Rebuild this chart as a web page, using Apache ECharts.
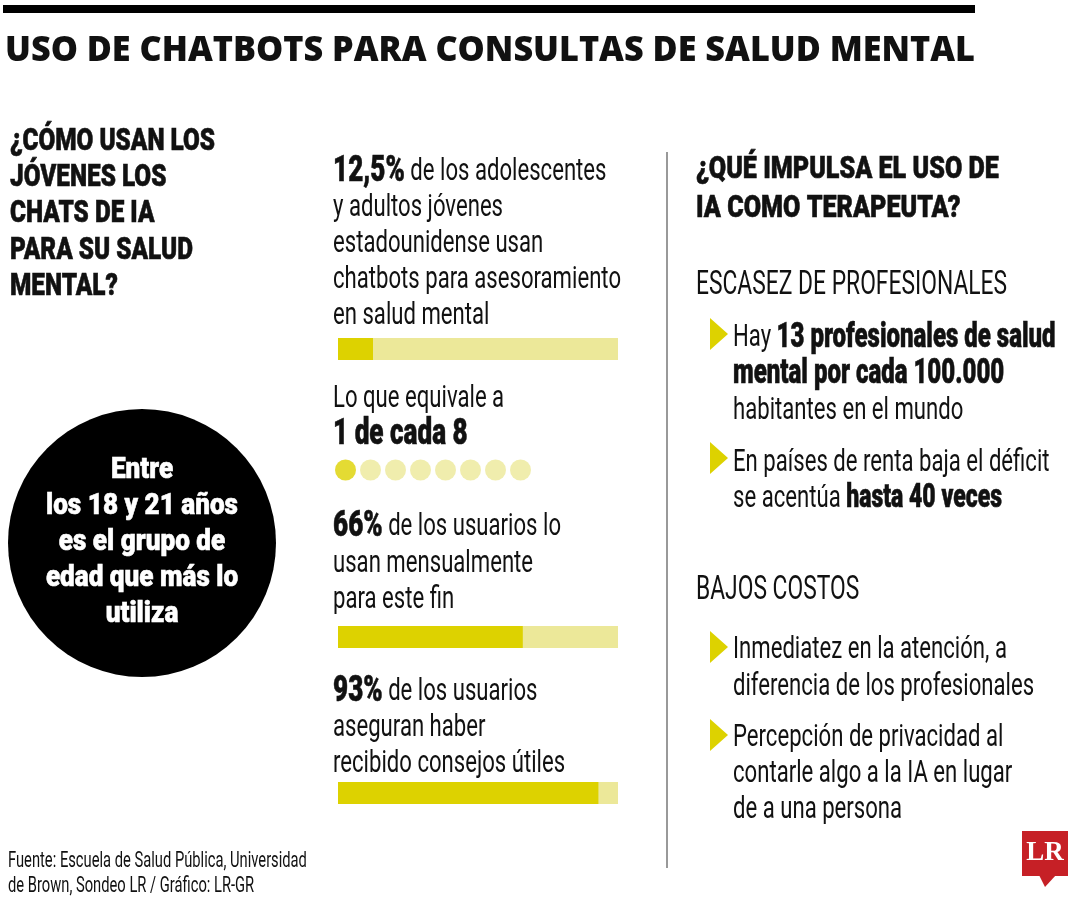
<!DOCTYPE html>
<html><head><meta charset="utf-8">
<script src="https://cdn.jsdelivr.net/npm/echarts@6/dist/echarts.min.js"></script>
<style>html,body{margin:0;padding:0;background:#fff}#c{width:1080px;height:900px}</style>
</head><body><div id="c"></div>
<script>
// ---- data ----
const title = 'USO DE CHATBOTS PARA CONSULTAS DE SALUD MENTAL';
const leftHeading = ['¿CÓMO USAN LOS', 'JÓVENES LOS', 'CHATS DE IA', 'PARA SU SALUD', 'MENTAL?'];
const circleText = ['Entre', 'los 18 y 21 años', 'es el grupo de', 'edad que más lo', 'utiliza'];
const barLabels = ['Adolescentes y adultos jóvenes que usan chatbots', 'Usuarios que los usan mensualmente', 'Usuarios que recibieron consejos útiles'];
const barValues = [12.5, 66, 93];
const dotLabels = ['1', '2', '3', '4', '5', '6', '7', '8'];
const dotFilled = 1;
const block1 = ['{b|12,5%} de los adolescentes', 'y adultos jóvenes', 'estadounidense usan', 'chatbots para asesoramiento', 'en salud mental'];
const block2 = ['Lo que equivale a', '{b|1 de cada 8}'];
const block3 = ['{b|66%} de los usuarios lo', 'usan mensualmente', 'para este fin'];
const block4 = ['{b|93%} de los usuarios', 'aseguran haber', 'recibido consejos útiles'];
const rightHeading = ['¿QUÉ IMPULSA EL USO DE', 'IA COMO TERAPEUTA?'];
const section1 = 'ESCASEZ DE PROFESIONALES';
const bullets1 = [
  ['Hay {b|13 profesionales de salud}', '{b|mental por cada 100.000}', 'habitantes en el mundo'],
  ['En países de renta baja el déficit', 'se acentúa {b|hasta 40 veces}']
];
const section2 = 'BAJOS COSTOS';
const bullets2 = [
  ['Inmediatez en la atención, a', 'diferencia de los profesionales'],
  ['Percepción de privacidad al', 'contarle algo a la IA en lugar', 'de a una persona']
];
const source = ['Fuente: Escuela de Salud Pública, Universidad', 'de Brown, Sondeo LR / Gráfico: LR-GR'];

// ---- style ----
const DARK = '#ddd200', LIGHT = '#ece899';
const COND = "Roboto, 'Noto Sans', sans-serif";
const WIDE = "'Open Sans', 'Noto Sans', sans-serif";
const HEAVY = 900;
const ctx = document.createElement('canvas').getContext('2d');
function measure(t, size, weight, fam) { ctx.font = weight + ' ' + size + 'px ' + fam; return ctx.measureText(t).width; }
const sxReg = 288 / measure('chatbots para asesoramiento', 32, 400, COND);
const sxBold = 205 / measure('¿CÓMO USAN LOS', 31, HEAVY, COND);
const sxCircle = 192 / measure('los 18 y 21 años', 29, HEAVY, COND);
const sxTitle = 970 / measure(title, 35, 800, WIDE);
const DY = 3;

function line(x, y, text, size, opts) {
  opts = opts || {};
  const weight = opts.weight || 400;
  const sx = opts.sx || (weight === 400 ? sxReg : sxBold);
  const bsize = opts.bsize || size * 1.06;
  const fill = opts.fill || '#111';
  const heavyStroke = { stroke: fill, lineWidth: 0.6 };
  const style = {
    text: text, fontFamily: opts.fam || COND, fontSize: size, fontWeight: weight,
    fill: fill, align: opts.align || 'left', verticalAlign: 'middle',
    rich: { b: Object.assign({ fontFamily: opts.fam || COND, fontSize: bsize, fontWeight: HEAVY, fill: fill }, heavyStroke) }
  };
  if (opts.heavy) Object.assign(style, heavyStroke);
  return { type: 'text', x: x, y: y + DY, scaleX: sx, silent: true, style: style };
}
function lines(x, y0, arr, size, lh, opts) { return arr.map((t, i) => line(x, y0 + i * lh, t, size, opts)); }
function tri(x, yc) {
  return { type: 'polygon', silent: true, shape: { points: [[x, yc - 16], [x + 18, yc], [x, yc + 16]] }, style: { fill: DARK } };
}

const mid = { bsize: 32 * 1.18 };
const rgt = { bsize: 32 * 1.085 };
const g = [];
g.push({ type: 'rect', shape: { x: 3, y: 5, width: 972, height: 8 }, style: { fill: '#000' } });
g.push(line(5, 48, title, 35, { weight: 800, fam: WIDE, sx: sxTitle }));
g.push(...lines(10, 139, leftHeading, 31, 36.3, { weight: HEAVY, heavy: true }));
g.push({ type: 'circle', shape: { cx: 142, cy: 543, r: 134 }, style: { fill: '#000' } });
g.push(...lines(142, 468, circleText, 29, 36, { weight: HEAVY, fill: '#fff', align: 'center', sx: sxCircle, heavy: true }));
g.push(...lines(333, 169, block1, 32, 36, mid));
g.push(...lines(333, 396, block2, 32, 36, mid));
g.push(...lines(333, 524, block3, 32, 36.5, mid));
g.push(...lines(333, 689, block4, 32, 36, mid));
g.push({ type: 'line', shape: { x1: 667, y1: 152, x2: 667, y2: 868 }, style: { stroke: '#777', lineWidth: 1.5 } });
g.push(...lines(696, 167, rightHeading, 32, 39, { weight: HEAVY, heavy: true }));
g.push(line(696, 283, section1, 33));
g.push(tri(710, 334)); g.push(...lines(733, 335, bullets1[0], 32, 36.5, rgt));
g.push(tri(710, 458)); g.push(...lines(733, 460, bullets1[1], 32, 35.5, { bsize: 32 * 1.04 }));
g.push(line(696, 588, section2, 33));
g.push(tri(710, 647)); g.push(...lines(733, 647, bullets2[0], 32, 36.5));
g.push(tri(710, 735)); g.push(...lines(733, 735, bullets2[1], 32, 36));
g.push(...lines(8, 859, source, 21.3, 25));
g.push({ type: 'rect', shape: { x: 1022, y: 831, width: 46, height: 45 }, style: { fill: '#c62026' } });
g.push({ type: 'polygon', shape: { points: [[1039, 875], [1056, 875], [1045, 887]] }, style: { fill: '#c62026' } });
g.push({ type: 'text', x: 1045, y: 853, style: { text: 'LR', fontFamily: "'Liberation Serif', 'DejaVu Serif', serif", fontWeight: 700, fontSize: 27, fill: '#fff', align: 'center', verticalAlign: 'middle' } });

const barTops = [338, 626, 782];
const grids = barTops.map(t => ({ left: 338, width: 280, top: t, height: 22 }));
grids.push({ left: 333, width: 200, top: 459, height: 22 });
const xAxes = barTops.map((t, i) => ({ type: 'value', gridIndex: i, min: 0, max: 100, show: false }));
xAxes.push({ type: 'category', gridIndex: 3, data: dotLabels, show: false });
const yAxes = barTops.map((t, i) => ({ type: 'category', gridIndex: i, data: [barLabels[i]], show: false }));
yAxes.push({ type: 'value', gridIndex: 3, min: -1, max: 1, show: false });
const series = barValues.map((v, i) => ({
  type: 'bar', xAxisIndex: i, yAxisIndex: i, data: [v], barWidth: 22, silent: true,
  showBackground: true, backgroundStyle: { color: LIGHT }, itemStyle: { color: DARK }
}));
series.push({
  type: 'scatter', xAxisIndex: 3, yAxisIndex: 3, symbolSize: 21, silent: true,
  data: dotLabels.map((d, i) => ({ value: [i, 0], itemStyle: { color: i < dotFilled ? DARK : LIGHT } }))
});

const chart = echarts.init(document.getElementById('c'));
chart.setOption({
  backgroundColor: '#fff', animation: false,
  grid: grids, xAxis: xAxes, yAxis: yAxes, series: series, graphic: g
});
</script></body></html>
